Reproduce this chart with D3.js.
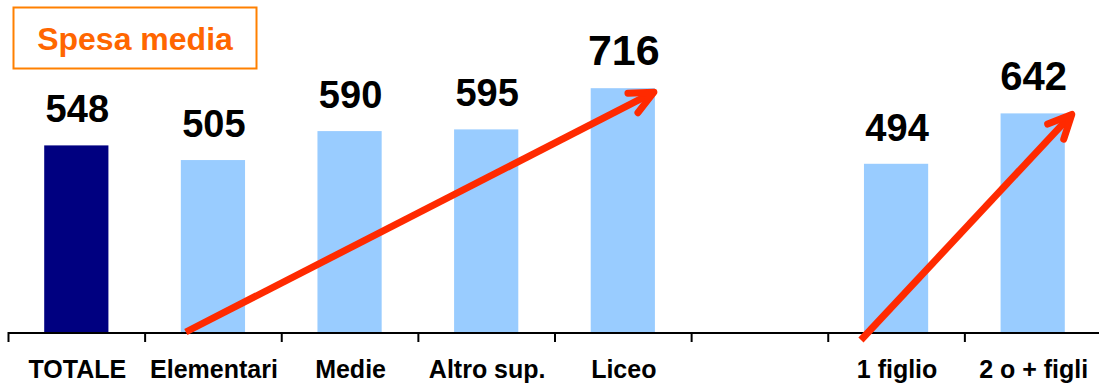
<!DOCTYPE html>
<html>
<head>
<meta charset="utf-8">
<script src="https://cdn.jsdelivr.net/npm/d3@7"></script>
<style>
  html, body { margin: 0; padding: 0; background: #fff; }
  svg { display: block; }
  text { font-family: "Liberation Sans", Arial, sans-serif; font-weight: bold; }
</style>
</head>
<body>
<div id="chart"></div>
<script>
// ---- data ----
const categories = ["TOTALE", "Elementari", "Medie", "Altro sup.", "Liceo", "", "1 figlio", "2 o + figli"];
const slotKeys = ["TOTALE", "Elementari", "Medie", "Altro sup.", "Liceo", "gap", "1 figlio", "2 o + figli"];
const values = [548, 505, 590, 595, 716, null, 494, 642];
const highlighted = ["TOTALE"];
const title = "Spesa media";
// arrows: from category -> to category
const arrowFrom = ["Elementari", "1 figlio"];
const arrowTo = ["Liceo", "2 o + figli"];

// ---- styles ----
const labelSize = { "Liceo": 43, "2 o + figli": 40 };
const defaultLabelSize = 38;

// ---- layout ----
const W = 1099, H = 385;
const svg = d3.select("#chart").append("svg").attr("width", W).attr("height", H);

const x = d3.scaleBand().domain(slotKeys).range([8, 1101]).padding(0);
const y = d3.scaleLinear().domain([0, 975]).range([332, 0]);
const barW = x.bandwidth() * 0.47;
const cx = k => x(k) + x.bandwidth() / 2;

const data = slotKeys.map((k, i) => ({ key: k, label: categories[i], value: values[i] }));

// bars
svg.append("g").selectAll("rect")
  .data(data.filter(d => d.value != null))
  .join("rect")
  .attr("x", d => cx(d.key) - barW / 2)
  .attr("width", barW)
  .attr("y", d => y(d.value))
  .attr("height", d => y(0) - y(d.value))
  .attr("fill", d => highlighted.includes(d.key) ? "#000080" : "#99CCFF");

// axis line
const axisG = svg.append("g");
axisG.append("line")
  .attr("x1", 8).attr("x2", W)
  .attr("y1", y(0) + 1).attr("y2", y(0) + 1)
  .attr("stroke", "#000").attr("stroke-width", 2);
// ticks at slot boundaries
axisG.selectAll("line.tick")
  .data(slotKeys)
  .join("line")
  .attr("class", "tick")
  .attr("x1", d => x(d) + 0.5).attr("x2", d => x(d) + 0.5)
  .attr("y1", y(0)).attr("y2", y(0) + 10)
  .attr("stroke", "#000").attr("stroke-width", 2);

// category labels
svg.append("g").selectAll("text")
  .data(data)
  .join("text")
  .attr("x", d => cx(d.key) + 1)
  .attr("y", 378)
  .attr("text-anchor", "middle")
  .attr("font-size", 25)
  .attr("fill", "#000")
  .text(d => d.label);

// value labels
svg.append("g").selectAll("text")
  .data(data.filter(d => d.value != null))
  .join("text")
  .attr("x", d => cx(d.key) + 1)
  .attr("y", d => y(d.value) - 23)
  .attr("text-anchor", "middle")
  .attr("font-size", d => labelSize[d.key] || defaultLabelSize)
  .attr("fill", "#000")
  .text(d => d.value);

// arrows
const red = "#FF2A00";
const arrowG = svg.append("g").attr("stroke", red).attr("stroke-width", 7)
  .attr("stroke-linecap", "round").attr("fill", "none");
arrowFrom.forEach((from, i) => {
  const to = arrowTo[i];
  const vTo = values[slotKeys.indexOf(to)];
  let x1, y1, x2, y2;
  if (i === 0) {
    x1 = cx(from) - barW / 2 + 5; y1 = y(0);
    x2 = cx(to) + barW / 2 - 1; y2 = y(vTo) + 4;
  } else {
    x1 = cx(from) - barW / 2 - 3; y1 = y(0) + 8;
    x2 = cx(to) + barW / 2 + 7; y2 = y(vTo) + 1;
  }
  arrowG.append("line").attr("x1", x1).attr("y1", y1).attr("x2", x2).attr("y2", y2)
    .attr("stroke-linecap", "butt");
  const back = Math.atan2(y1 - y2, x1 - x2);
  const L = 26, a = 25 * Math.PI / 180;
  const pts = [
    [x2 + L * Math.cos(back + a), y2 + L * Math.sin(back + a)],
    [x2, y2],
    [x2 + L * Math.cos(back - a), y2 + L * Math.sin(back - a)]
  ];
  arrowG.append("path").attr("d", d3.line()(pts)).attr("stroke-linejoin", "round");
});

// title box
const tg = svg.append("g");
tg.append("rect").attr("x", 13.5).attr("y", 7.5).attr("width", 243).attr("height", 61)
  .attr("fill", "#fff").attr("stroke", "#FF8000").attr("stroke-width", 2);
tg.append("text").attr("x", 135).attr("y", 50).attr("text-anchor", "middle")
  .attr("font-size", 32).attr("fill", "#FF6600").text(title);
</script>
</body>
</html>
